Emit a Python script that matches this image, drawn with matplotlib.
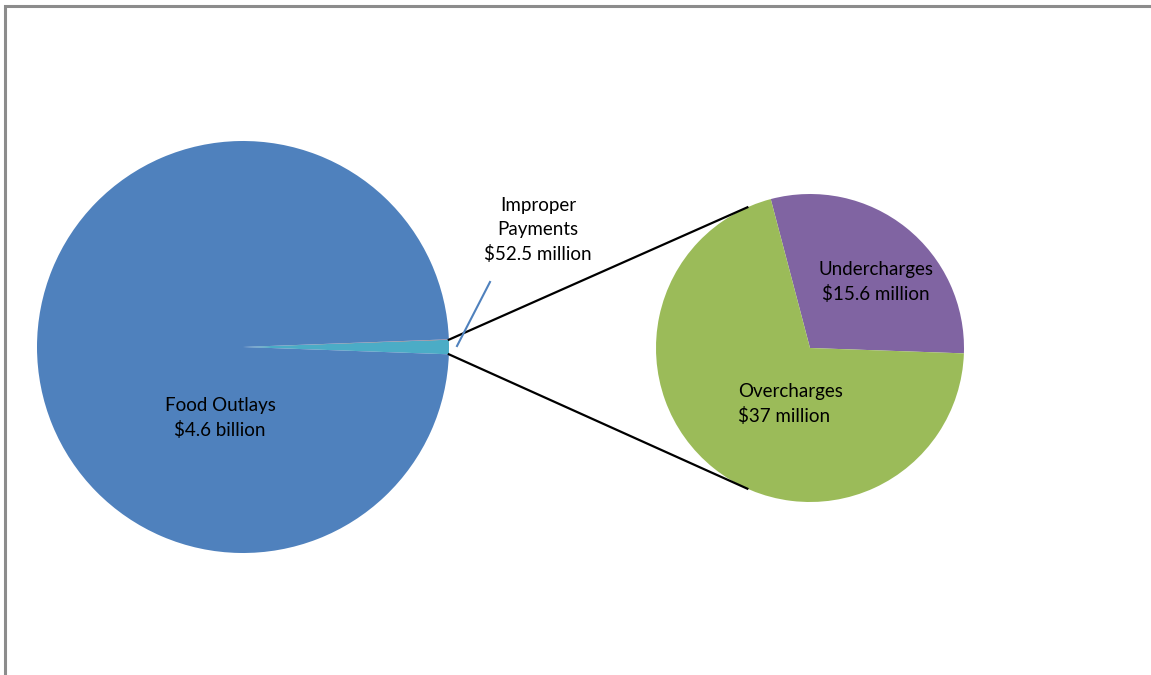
import numpy as np
import matplotlib.pyplot as plt

# left pie (millions of dollars)
left_labels = ["Improper Payments", "", "Food Outlays"]
left_values = [52.5, 1.5, 4600.0]
left_colors = ["#4BACC6", "#C0504D", "#4F81BD"]

# right pie: breakdown of improper payments
right_labels = ["Undercharges", "Overcharges"]
right_values = [15.6, 37.0]
right_colors = ["#8064A2", "#9BBB59"]

plt.rcParams['font.family'] = ['Lato', 'DejaVu Sans']

fig = plt.figure(figsize=(11.51, 6.75), dpi=100)
ax = fig.add_axes([0, 0, 1, 1])

H = 675
lc = (243, H - 347)
lr = 206
rc = (810, H - 348)
rr = 154

# improper slice centred on the horizontal axis
frac = left_values[0] / sum(left_values)
start_l = -180 * frac
ax.pie(left_values, colors=left_colors, center=lc, radius=lr,
       startangle=start_l, counterclock=True,
       wedgeprops=dict(linewidth=0), frame=True)

ax.pie(right_values, colors=right_colors, center=rc, radius=rr,
       startangle=-2.0, counterclock=True,
       wedgeprops=dict(linewidth=0), frame=True)
ax.set_xlim(0, 1151)
ax.set_ylim(0, 675)
ax.set_aspect('equal')
ax.axis('off')

# connector lines from the improper slice to the right pie
a_top = np.deg2rad(-start_l)
a_bot = np.deg2rad(start_l)
b = np.deg2rad(114)
p1 = (lc[0] + lr * np.cos(a_top), lc[1] + lr * np.sin(a_top))
p2 = (lc[0] + lr * np.cos(a_bot), lc[1] + lr * np.sin(a_bot))
q1 = (rc[0] + rr * np.cos(b), rc[1] + rr * np.sin(b))
q2 = (rc[0] + rr * np.cos(-b), rc[1] + rr * np.sin(-b))
ax.plot([p1[0], q1[0]], [p1[1], q1[1]], color="black", lw=1.6)
ax.plot([p2[0], q2[0]], [p2[1], q2[1]], color="black", lw=1.6)

# leader line for improper payments label
ax.plot([457, 490], [H - 346, H - 282], color="#4F81BD", lw=1.5)

fs = 13.5
ls = 1.5
ax.text(220, H - 418, "Food Outlays\n$4.6 billion", ha="center", va="center",
        fontsize=fs, linespacing=ls)
ax.text(538, H - 230, "Improper\nPayments\n$52.5 million", ha="center",
        va="center", fontsize=fs, linespacing=ls)
ax.text(876, H - 282, "Undercharges\n$15.6 million", ha="center", va="center",
        fontsize=fs, linespacing=ls)
ax.text(738, H - 404, "Overcharges\n$37 million", ha="left", va="center",
        fontsize=fs, linespacing=ls)

# chart frame
ax.plot([5.5, 5.5, 1151], [0, H - 5.5, H - 5.5], color="#8C8C8C", lw=2.2,
        solid_joinstyle="miter")

fig.savefig("out.png", dpi=100)
